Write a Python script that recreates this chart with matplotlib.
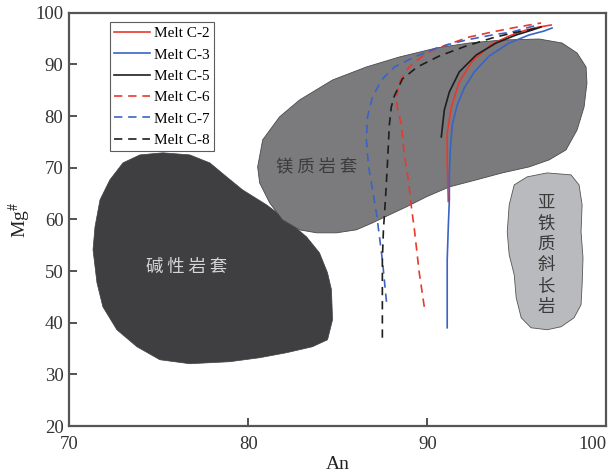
import matplotlib
matplotlib.use("Agg")
import matplotlib.pyplot as plt
from matplotlib.patches import Polygon

plt.rcParams['font.family'] = ['Liberation Serif', 'Noto Sans CJK SC', 'DejaVu Sans']
plt.rcParams['mathtext.fontset'] = 'stix'

# ---- field outlines (An, Mg#) ----
alkaline_an = [75.24, 73.96, 73.01, 72.28, 71.73, 71.45, 71.34, 71.56, 71.89, 72.67, 73.79, 75.07,
               76.74, 78.97, 80.64, 82.14, 83.59, 84.43, 84.71, 84.65, 84.43, 83.98, 83.26, 82.14,
               81.03, 79.69, 78.80, 77.86, 76.74]
alkaline_mg = [72.9, 72.5, 70.95, 67.66, 63.79, 58.57, 54.12, 47.74, 43.09, 38.65, 35.36, 32.84,
               32.07, 32.46, 33.23, 34.2, 35.36, 36.71, 40.58, 46.38, 49.67, 53.54, 56.63, 59.92,
               62.82, 65.72, 68.24, 70.95, 72.5]

magnesian_an = [80.53, 80.81, 81.75, 82.87, 84.71, 86.6, 88.44, 90.5, 92.34, 94.18, 96.24, 97.52,
                98.36, 98.86, 98.91, 98.75, 98.36, 97.74, 96.8, 95.68, 94.18, 92.73, 91.23, 89.94,
                88.83, 87.88, 86.94, 86.04, 84.93, 83.82, 82.87, 81.92, 81.2, 80.64]
magnesian_mg = [70.17, 75.4, 79.85, 83.13, 87.0, 89.52, 91.45, 93.19, 94.16, 94.74, 94.93, 94.16,
                92.22, 89.52, 86.42, 81.78, 77.33, 73.46, 71.53, 70.17, 69.01, 67.66, 66.3, 64.37,
                62.43, 60.89, 59.34, 57.99, 57.41, 57.41, 57.99, 59.92, 63.21, 67.08]

ferroan_an = [94.85, 95.57, 96.69, 98.02, 98.47, 98.64, 98.58, 98.69, 98.64, 98.58, 98.19, 97.47,
              96.69, 95.79, 95.24, 94.96, 94.85, 94.57, 94.46, 94.57]
ferroan_mg = [66.69, 68.24, 69.01, 68.63, 66.69, 62.82, 57.6, 52.57, 47.35, 43.48, 40.97, 39.23,
              38.65, 39.03, 40.97, 44.84, 49.29, 53.15, 57.6, 62.82]

# ---- melt paths ----
c2_an = [91.17, 91.11, 91.11, 91.34, 91.78, 92.51, 93.62, 94.57, 95.52, 96.24, 96.91]
c2_mg = [63.5, 71.53, 76.75, 81.78, 86.62, 90.68, 93.97, 95.52, 96.67, 97.25, 97.64]

c3_an = [91.11, 91.11, 91.17, 91.23, 91.23, 91.28, 91.39, 91.67, 92.06, 92.62, 93.45, 94.57,
         95.68, 96.52, 96.96]
c3_mg = [39.03, 52.19, 58.57, 63.79, 68.63, 73.46, 78.3, 82.17, 85.46, 88.55, 91.64, 94.16,
         95.71, 96.48, 97.06]

c5_an = [90.78, 90.95, 91.23, 91.78, 92.73, 93.84, 94.96, 95.85, 96.35]
c5_mg = [75.98, 81.2, 84.68, 88.55, 91.84, 94.16, 95.71, 96.67, 97.25]

c6_an = [89.83, 89.55, 89.28, 89.11, 88.94, 88.72, 88.55, 88.33, 88.27, 88.44, 88.99, 89.94,
         91.06, 92.34, 93.62, 94.74, 95.68, 96.35]
c6_mg = [43.09, 49.67, 57.99, 62.43, 67.66, 72.5, 78.3, 81.59, 83.71, 86.62, 89.52, 92.22,
         93.77, 95.32, 96.29, 97.06, 97.64, 98.03]

c7_an = [87.72, 87.49, 87.33, 87.16, 86.94, 86.71, 86.6, 86.66, 86.94, 87.44, 88.16, 89.28,
         90.67, 92.17, 93.62, 94.74, 95.52, 95.96]
c7_mg = [44.06, 52.19, 56.63, 61.28, 65.73, 70.56, 75.4, 79.85, 83.71, 87.0, 89.52, 91.45,
         93.39, 94.74, 95.71, 96.29, 97.06, 97.45]

c8_an = [87.49, 87.49, 87.49, 87.55, 87.66, 87.77, 87.88, 87.99, 88.16, 88.61, 89.44, 90.67,
         92.17, 93.62, 94.74, 95.68, 96.24]
c8_mg = [37.1, 43.09, 52.19, 57.99, 63.79, 70.56, 78.3, 81.78, 83.91, 87.2, 89.52, 91.64,
         93.58, 95.13, 96.09, 96.67, 97.25]

x_ticks = [70, 80, 90, 100]
y_ticks = [20, 30, 40, 50, 60, 70, 80, 90, 100]

RED = '#e8392e'
BLUE = '#3a63c4'
BLACK = '#1e1e1e'

fig = plt.figure(figsize=(6.08, 4.75), dpi=100)
ax = fig.add_axes([0.1135, 0.103, 0.884, 0.870])

ax.add_patch(Polygon(list(zip(alkaline_an, alkaline_mg)), closed=True,
                     facecolor='#3f3f41', edgecolor='#3f3f41', lw=0.5, zorder=1))
ax.add_patch(Polygon(list(zip(magnesian_an, magnesian_mg)), closed=True,
                     facecolor='#7b7b7d', edgecolor='#4a4a4a', lw=0.6, zorder=1))
ax.add_patch(Polygon(list(zip(ferroan_an, ferroan_mg)), closed=True,
                     facecolor='#b9babd', edgecolor='#555555', lw=0.6, zorder=1))

cjk = ['Noto Sans CJK SC', 'DejaVu Sans']
ax.text(76.57, 50.8, '碱 性 岩 套', family=cjk, fontsize=12.5, color='#d6d6d6',
        ha='center', va='center', zorder=2)
ax.text(83.82, 70.2, '镁 质 岩 套', family=cjk, fontsize=12.5, color='#3c3c3c',
        ha='center', va='center', zorder=2)
ax.text(96.63, 53.2, '\n'.join('亚铁质斜长岩'), family=cjk, fontsize=12.5, color='#3a3a3a',
        ha='center', va='center', linespacing=1.2, zorder=2)

dash = (0, (5, 3.5))
ax.plot(c2_an, c2_mg, color=RED, lw=1.2, label='Melt C-2', zorder=3)
ax.plot(c3_an, c3_mg, color=BLUE, lw=1.2, label='Melt C-3', zorder=3)
ax.plot(c5_an, c5_mg, color=BLACK, lw=1.2, label='Melt C-5', zorder=3)
ax.plot(c6_an, c6_mg, color=RED, lw=1.2, ls=dash, label='Melt C-6', zorder=3)
ax.plot(c7_an, c7_mg, color=BLUE, lw=1.2, ls=dash, label='Melt C-7', zorder=3)
ax.plot(c8_an, c8_mg, color=BLACK, lw=1.2, ls=dash, label='Melt C-8', zorder=3)

leg = ax.legend(loc='upper left', bbox_to_anchor=(0.076, 0.978), borderaxespad=0,
                fontsize=11, frameon=True, fancybox=False, handlelength=2.3,
                handletextpad=0.3, labelspacing=0.5, borderpad=0.3)
leg.get_frame().set_edgecolor('#333333')
leg.get_frame().set_linewidth(0.8)

ax.set_xlim(70, 100)
ax.set_ylim(20, 100)
ax.set_xticks(x_ticks)
ax.set_yticks(y_ticks)
ax.set_xticklabels([str(v) for v in x_ticks])
ax.set_yticklabels([str(v) for v in y_ticks])
ax.tick_params(direction='in', length=6, width=1.3, color='#444444', labelsize=13.5,
               labelcolor='#333333')
ax.tick_params(axis='x', pad=7)
ax.tick_params(axis='y', pad=4)
ax.get_xticklabels()[-1].set_ha('right')
for s in ax.spines.values():
    s.set_color('#555555')
    s.set_linewidth(1.6)

ax.set_xlabel('An', fontsize=14, color='#222222', labelpad=2)
ax.set_ylabel(r'Mg$^{\#}$', fontsize=14, color='#222222', labelpad=2)

fig.savefig('out.png', dpi=100)
